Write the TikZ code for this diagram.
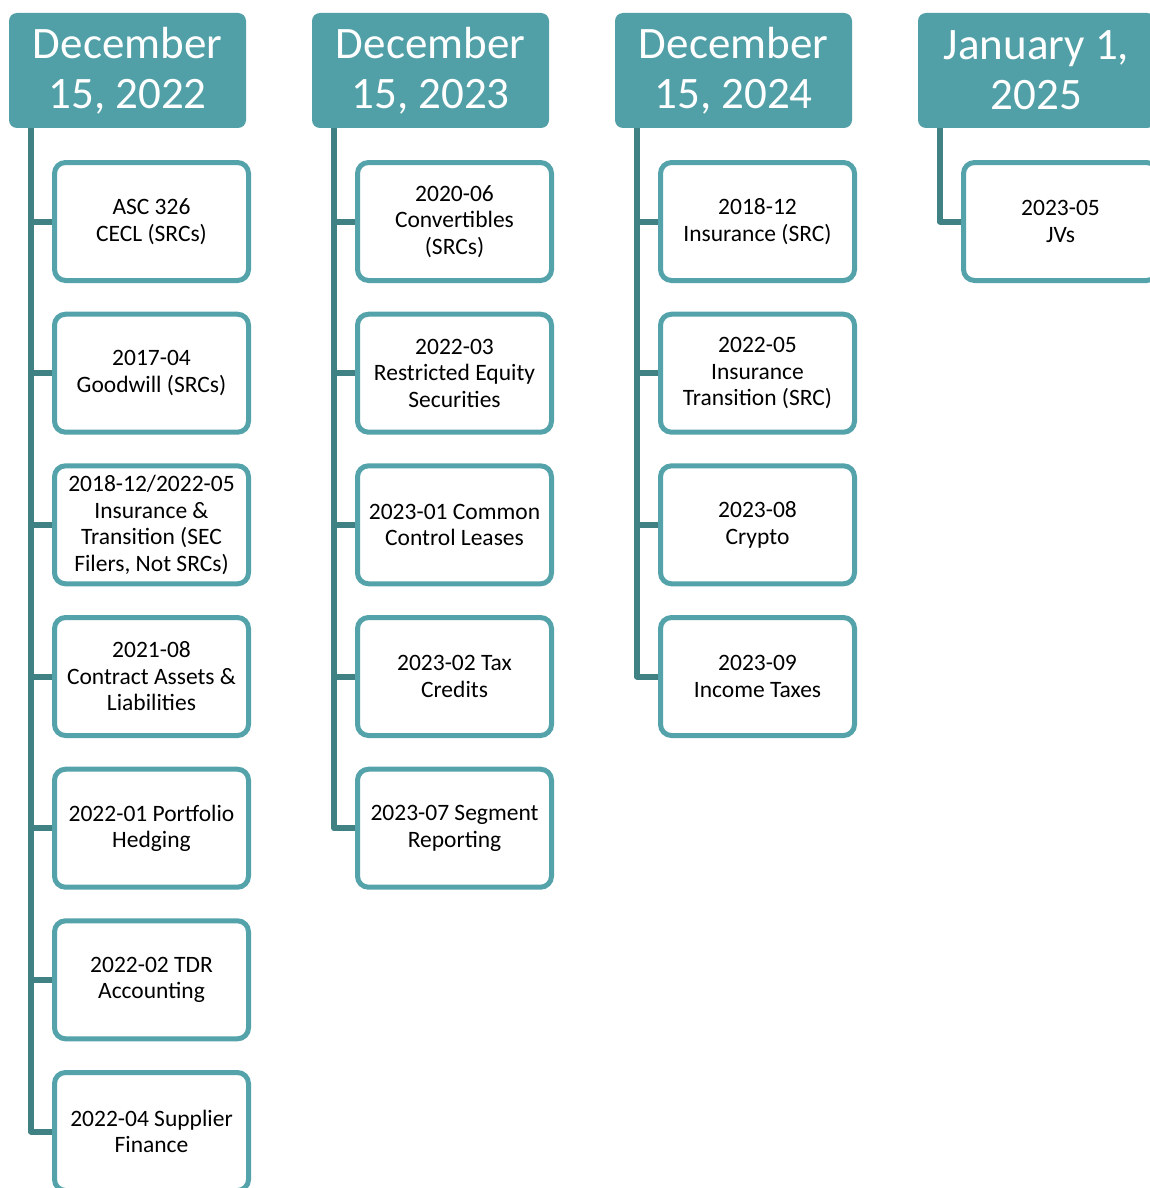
\documentclass[tikz,border=0pt]{standalone}
\usepackage{fontspec}
\setmainfont{Carlito}
\definecolor{hdrfill}{RGB}{82,160,167}
\definecolor{boxline}{RGB}{84,163,170}
\definecolor{connline}{RGB}{64,129,131}
\tikzset{
  hdr/.style={fill=hdrfill, text=white, rounded corners=8pt, minimum width=237pt, minimum height=115pt, inner sep=0pt, align=center, font=\fontsize{45}{50}\selectfont},
  item/.style={draw=boxline, fill=white, line width=5pt, rounded corners=11pt, minimum width=194pt, minimum height=118pt, inner sep=0pt, align=center, font=\fontsize{23.5}{26.5}\selectfont},
  conn/.style={draw=connline, line width=6pt, line join=round}
}
\begin{document}
\begin{tikzpicture}[x=1pt,y=-1pt]
\useasboundingbox (0,0) rectangle (1150,1188);
\clip (0,0) rectangle (1150,1188);
% headers
\node[hdr] (h1) at (127.5,70.5) {December\\15, 2022};
\node[hdr] (h2) at (430.5,70.5) {December\\15, 2023};
\node[hdr] (h3) at (733.5,70.5) {December\\15, 2024};
\node[hdr] (h4) at (1036.5,70.5) {January 1,\\2025};
% spine tops
\coordinate (v1) at (31,128);
\coordinate (v2) at (334,128);
\coordinate (v3) at (637,128);
\coordinate (v4) at (940,128);
% column 1
\node[item] (a1) at (151.5,221.5) {ASC 326\\CECL (SRCs)};
\node[item] (a2) at (151.5,373.2) {2017-04\\Goodwill (SRCs)};
\node[item] (a3) at (151.5,524.8) {2018-12/2022-05\\Insurance \&\\Transition (SEC\\Filers, Not SRCs)};
\node[item] (a4) at (151.5,676.5) {2021-08\\Contract Assets \&\\Liabilities};
\node[item] (a5) at (151.5,828.2) {2022-01 Portfolio\\Hedging};
\node[item] (a6) at (151.5,979.8) {2022-02 TDR\\Accounting};
\node[item] (a7) at (151.5,1131.5) {2022-04 Supplier\\Finance};
% column 2
\node[item] (b1) at (454.5,221.5) {2020-06\\Convertibles\\(SRCs)};
\node[item] (b2) at (454.5,373.2) {2022-03\\Restricted Equity\\Securities};
\node[item] (b3) at (454.5,524.8) {2023-01 Common\\Control Leases};
\node[item] (b4) at (454.5,676.5) {2023-02 Tax\\Credits};
\node[item] (b5) at (454.5,828.2) {2023-07 Segment\\Reporting};
% column 3
\node[item] (c1) at (757.5,221.5) {2018-12\\Insurance (SRC)};
\node[item] (c2) at (757.5,373.2) {2022-05\\Insurance\\Transition (SRC)};
\node[item] (c3) at (757.5,524.8) {2023-08\\Crypto};
\node[item] (c4) at (757.5,676.5) {2023-09\\Income Taxes};
% column 4
\node[item] (d1) at (1060.5,221.5) {2023-05\\JVs};
% connectors
\draw[conn] (v1) |- (a7.west);
\foreach \n in {a1,a2,a3,a4,a5,a6} \draw[conn] (v1 |- \n.west) -- (\n.west);
\draw[conn] (v2) |- (b5.west);
\foreach \n in {b1,b2,b3,b4} \draw[conn] (v2 |- \n.west) -- (\n.west);
\draw[conn] (v3) |- (c4.west);
\foreach \n in {c1,c2,c3} \draw[conn] (v3 |- \n.west) -- (\n.west);
\draw[conn] (v4) |- (d1.west);
\end{tikzpicture}
\end{document}
